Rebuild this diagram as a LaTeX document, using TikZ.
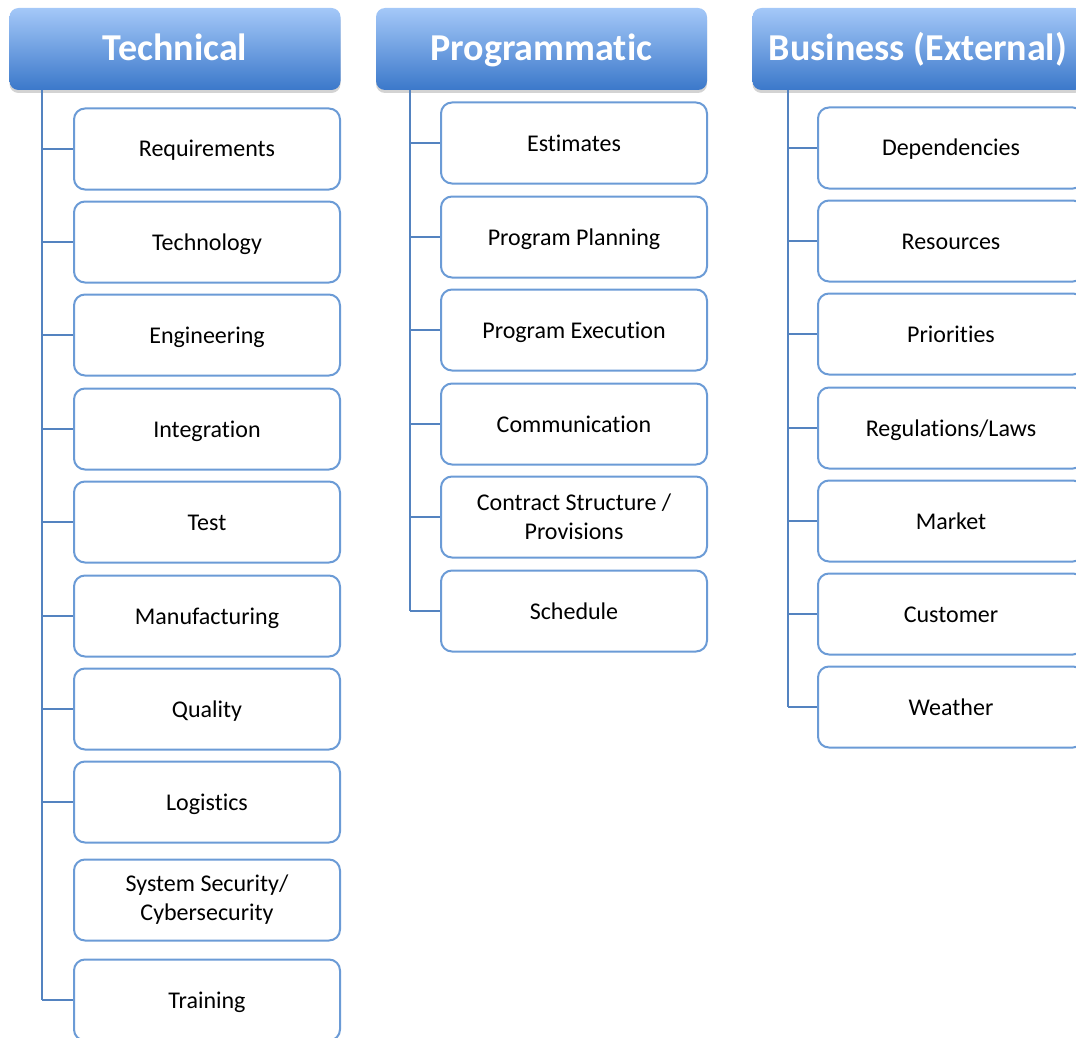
\documentclass[tikz,border=0pt]{standalone}
\usepackage{fontspec}
\setmainfont{Carlito}[Ligatures={NoCommon}]
\usetikzlibrary{shadows}
\definecolor{hdtop}{HTML}{A4C8F8}
\definecolor{hdbot}{HTML}{3B78CA}
\definecolor{boxline}{HTML}{6B9BD6}
\definecolor{connline}{HTML}{5483C0}

\begin{document}
\begin{tikzpicture}[x=1pt, y=-1pt,
    header/.style={rectangle, rounded corners=9pt, minimum width=331pt, minimum height=82pt,
      top color=hdtop, bottom color=hdbot, text=white, font=\fontsize{38}{41}\selectfont\bfseries,
      text height=32pt, text depth=8pt,
      drop shadow={shadow xshift=0pt, shadow yshift=-3pt, opacity=0.35}},
    item/.style={rectangle, rounded corners=11pt, draw=boxline, line width=2pt, fill=white,
      minimum width=266pt, minimum height=81pt, align=center,
      text height=19.5pt, text depth=3.5pt, font=\fontsize{24}{29}\selectfont},
    twoline/.style={text height={}, text depth={}},
    conn/.style={draw=connline, line width=2pt}]
  \useasboundingbox (0,0) rectangle (1076,1038);
  \clip (0,0) rectangle (1076,1038);

  \node[header] (th) at (175, 49) {Technical};
  \node[header] (ph) at (541.5, 49) {Programmatic};
  \node[header] (bh) at (918, 49) {Business (External)};

  \coordinate (tk) at (42, 90);
  \coordinate (pk) at (410, 90);
  \coordinate (bk) at (788, 90);

  \node[item] (t1) at (207, 149) {Requirements};
  \node[item] (t2) at (207, 242) {Technology};
  \node[item] (t3) at (207, 335) {Engineering};
  \node[item] (t4) at (207, 429) {Integration};
  \node[item] (t5) at (207, 522) {Test};
  \node[item] (t6) at (207, 616) {Manufacturing};
  \node[item] (t7) at (207, 709) {Quality};
  \node[item] (t8) at (207, 802) {Logistics};
  \node[item, twoline] (t9) at (207, 900) {System Security/\\Cybersecurity};
  \node[item] (t10) at (207, 1000) {Training};

  \node[item] (p1) at (574, 143) {Estimates};
  \node[item] (p2) at (574, 237) {Program Planning};
  \node[item] (p3) at (574, 330) {Program Execution};
  \node[item] (p4) at (574, 424) {Communication};
  \node[item, twoline] (p5) at (574, 517) {Contract Structure /\\Provisions};
  \node[item] (p6) at (574, 611) {Schedule};

  \node[item] (b1) at (951, 148) {Dependencies};
  \node[item] (b2) at (951, 241) {Resources};
  \node[item] (b3) at (951, 334) {Priorities};
  \node[item] (b4) at (951, 428) {Regulations/Laws};
  \node[item] (b5) at (951, 521) {Market};
  \node[item] (b6) at (951, 614) {Customer};
  \node[item] (b7) at (951, 707) {Weather};

  % trunks
  \draw[conn] (tk) -- (tk |- t10.west);
  \draw[conn] (pk) -- (pk |- p6.west);
  \draw[conn] (bk) -- (bk |- b7.west);

  % branches
  \draw[conn] (tk |- t1.west) -- (t1.west);
  \draw[conn] (tk |- t2.west) -- (t2.west);
  \draw[conn] (tk |- t3.west) -- (t3.west);
  \draw[conn] (tk |- t4.west) -- (t4.west);
  \draw[conn] (tk |- t5.west) -- (t5.west);
  \draw[conn] (tk |- t6.west) -- (t6.west);
  \draw[conn] (tk |- t7.west) -- (t7.west);
  \draw[conn] (tk |- t8.west) -- (t8.west);
  \draw[conn] (tk |- t10.west) -- (t10.west);

  \draw[conn] (pk |- p1.west) -- (p1.west);
  \draw[conn] (pk |- p2.west) -- (p2.west);
  \draw[conn] (pk |- p3.west) -- (p3.west);
  \draw[conn] (pk |- p4.west) -- (p4.west);
  \draw[conn] (pk |- p5.west) -- (p5.west);
  \draw[conn] (pk |- p6.west) -- (p6.west);

  \draw[conn] (bk |- b1.west) -- (b1.west);
  \draw[conn] (bk |- b2.west) -- (b2.west);
  \draw[conn] (bk |- b3.west) -- (b3.west);
  \draw[conn] (bk |- b4.west) -- (b4.west);
  \draw[conn] (bk |- b5.west) -- (b5.west);
  \draw[conn] (bk |- b6.west) -- (b6.west);
  \draw[conn] (bk |- b7.west) -- (b7.west);

\end{tikzpicture}
\end{document}
